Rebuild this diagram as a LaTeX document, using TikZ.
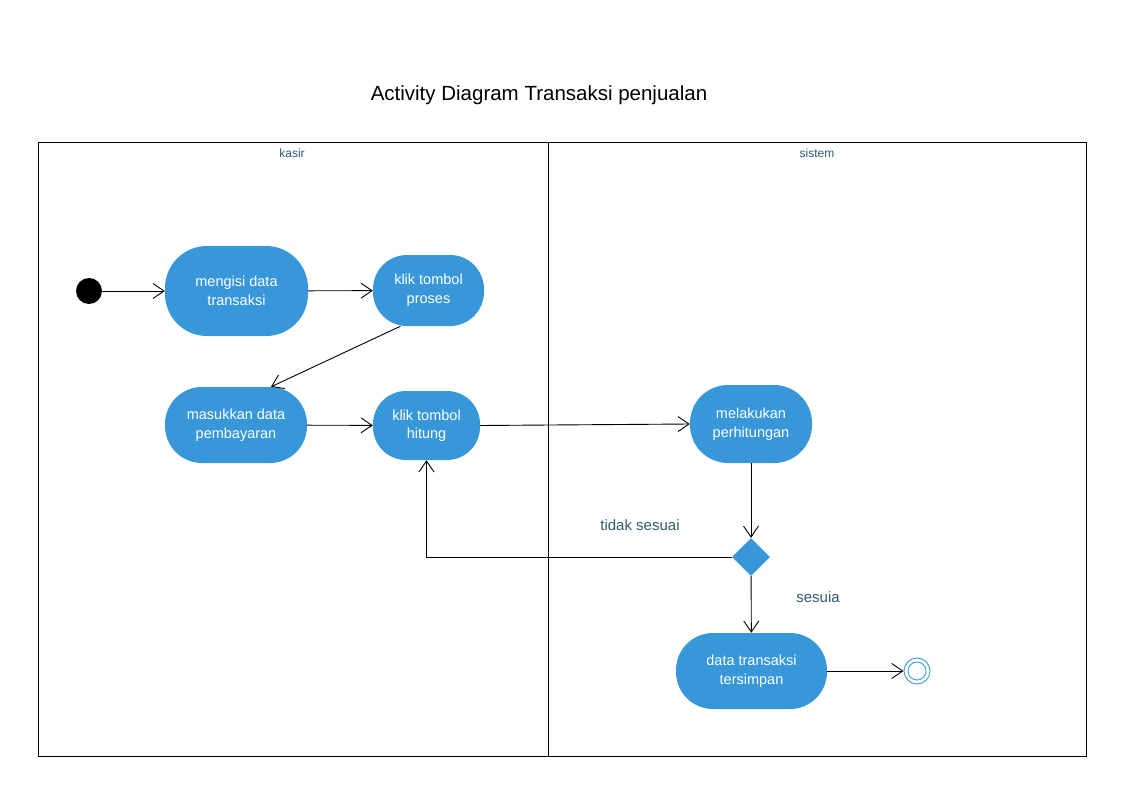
\documentclass[tikz,border=0pt]{standalone}
\usepackage{fontspec}
\setmainfont{Liberation Sans}
\usetikzlibrary{arrows.meta,shapes.geometric}
\definecolor{actblue}{HTML}{3797D9}
\definecolor{lbl}{HTML}{2E5A73}
\definecolor{endblue}{HTML}{4DA3D6}
\tikzset{
  act/.style={fill=actblue, draw=none, text=white, align=center, inner sep=0pt,
    font=\fontsize{14.5}{18.5}\selectfont},
  flow/.style={draw=black, line width=0.9pt, -{Straight Barb[length=11pt,width=15pt,line width=0.9pt]}},
  lanelbl/.style={text=lbl, font=\fontsize{12}{14}\selectfont, inner sep=0pt},
  guard/.style={text=lbl, font=\fontsize{15}{18}\selectfont, inner sep=0pt},
}
\begin{document}
\begin{tikzpicture}[x=1pt,y=-1pt]
\useasboundingbox (0,0) rectangle (1123,794);
% title
\node[font=\fontsize{20.5}{24}\selectfont, inner sep=0pt] (title) at (539,95) {Activity Diagram Transaksi penjualan};
% swimlanes
\draw[line width=0.9pt] (38,142) rectangle (1086,756);
\draw[line width=0.9pt] (548,142) -- (548,756);
\node[lanelbl] (kasir) at (292,153) {kasir};
\node[lanelbl] (sistem) at (817,153) {sistem};
% nodes
\node[circle, fill=black, minimum size=26pt, inner sep=0pt] (start) at (89,291) {};
\node[act, minimum width=143pt, minimum height=90pt, rounded corners=42pt] (n1) at (236.5,291) {mengisi data\\transaksi};
\node[act, minimum width=111pt, minimum height=71pt, rounded corners=34pt] (n2) at (428.5,290.5) {klik tombol\\proses};
\node[act, minimum width=142pt, minimum height=76pt, rounded corners=37pt] (n3) at (236,425) {masukkan data\\pembayaran};
\node[act, minimum width=107pt, minimum height=69pt, rounded corners=33pt] (n4) at (426.5,425.5) {klik tombol\\hitung};
\node[act, minimum width=122pt, minimum height=78pt, rounded corners=38pt] (n5) at (751,424) {melakukan\\perhitungan};
\node[diamond, fill=actblue, minimum width=38pt, minimum height=38pt, inner sep=0pt] (dec) at (751,557) {};
\node[act, minimum width=151pt, minimum height=76pt, rounded corners=37pt] (n6) at (751.5,671) {data transaksi\\tersimpan};
\node[circle, draw=endblue, line width=1pt, minimum size=26pt, inner sep=0pt] (fin) at (917,671) {};
\node[circle, draw=endblue, line width=1pt, minimum size=18pt, inner sep=0pt] (finin) at (917,671) {};
% connectors
\draw[flow] (start) -- (n1);
\draw[flow] (n1) -- (n2);
\draw[flow] ([xshift=-28pt]n2.south) -- ([xshift=35pt]n3.north);
\draw[flow] (n3) -- (n4);
\draw[flow] (n4.east) -- (n5.west);
\draw[flow] (n5) -- (dec);
\draw[flow] (dec.west) -| (n4.south);
\draw[flow] (dec) -- (n6);
\draw[flow] (n6) -- (fin);
% guards
\node[guard] (g1) at (640,525) {tidak sesuai};
\node[guard] (g2) at (818,597) {sesuia};
\end{tikzpicture}
\end{document}
